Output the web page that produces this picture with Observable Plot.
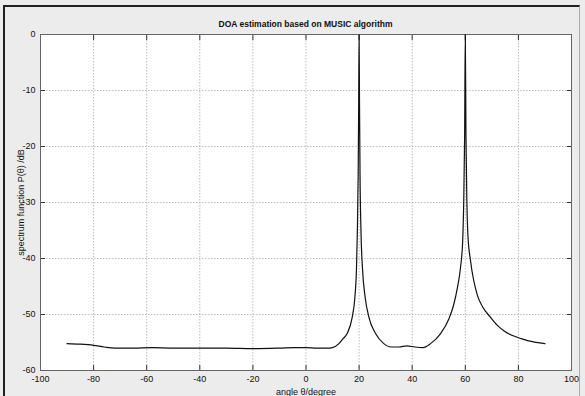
<!DOCTYPE html>
<html><head><meta charset="utf-8">
<script src="https://cdn.jsdelivr.net/npm/d3@7"></script>
<script src="https://cdn.jsdelivr.net/npm/@observablehq/plot@0.6"></script>
<style>
html,body{margin:0;padding:0;width:585px;height:396px;overflow:hidden;background:#ececec;}
#frame{position:absolute;left:3px;top:5px;width:577px;height:400px;border-left:2px solid #222;border-top:2px solid #222;border-right:1px solid #aaa;box-sizing:border-box;}
#title{position:absolute;top:19px;left:0;width:611px;text-align:center;font:bold 8.5px "Liberation Sans",Arial,sans-serif;color:#111;white-space:nowrap;}
#chart{position:absolute;left:0;top:0;}
</style></head>
<body>
<div id="frame"></div>
<div id="chart"></div>
<div id="title">DOA estimation based on MUSIC algorithm</div>
<script>
const angles = [-90,-85,-80,-76,-72,-65,-58,-50,-40,-30,-20,-10,-4,0,4,8,10,12.4,14,15.5,17.4,18.4,19.0,19.35,19.65,19.85,20.0,20.15,20.35,20.7,21.3,22.3,23.7,26.2,29.3,32,35,38,41,44,46.9,50.7,53.8,55.6,57.0,58.2,59.0,59.4,59.75,60.0,60.25,60.6,61.0,62.0,64.5,66.5,69.5,72,74.5,78,81,85.7,90];
const powerDb = [-55.2,-55.3,-55.5,-55.8,-56.0,-56.0,-55.9,-56.0,-56.0,-56.0,-56.1,-56.0,-55.9,-55.9,-56.0,-56.0,-55.9,-55.2,-54.3,-53.4,-50.5,-47.0,-42,-35,-25,-12,0,-12,-25,-35,-42,-47.0,-50.5,-53.4,-55.2,-55.8,-55.8,-55.6,-55.8,-55.9,-55.2,-53.4,-50.8,-48.3,-45.3,-41.6,-37,-30,-18,0,-18,-30,-36,-40.5,-46.5,-48.6,-50.5,-51.9,-52.9,-53.8,-54.3,-54.9,-55.2];
const xTicks = [-100,-80,-60,-40,-20,0,20,40,60,80,100];
const yTicks = [0,-10,-20,-30,-40,-50,-60];
const titleText = "DOA estimation based on MUSIC algorithm";
const xLabel = "angle θ/degree";
const yLabel = "spectrum function P(θ) /dB";

const data = angles.map((a, i) => ({angle: a, p: powerDb[i]}));
const tickColor = "#333";
const fmt = d => String(d);
const chart = Plot.plot({
  width: 585, height: 396,
  marginLeft: 40, marginRight: 14, marginTop: 34, marginBottom: 26,
  style: {background: "transparent", fontFamily: "'Liberation Sans', Arial, sans-serif", fontSize: "9px", color: "#111", overflow: "hidden"},
  x: {domain: [-100, 100], ticks: xTicks},
  y: {domain: [-60, 0], ticks: yTicks},
  marks: [
    Plot.frame({fill: "white", stroke: null}),
    Plot.gridX(xTicks, {stroke: "#bdbdbd", strokeOpacity: 1, strokeDasharray: "1.5,1.5"}),
    Plot.gridY(yTicks, {stroke: "#bdbdbd", strokeOpacity: 1, strokeDasharray: "1.5,1.5"}),
    Plot.axisX(xTicks, {anchor: "bottom", tickSize: 5, dy: -5, fill: "none", label: null, stroke: tickColor}),
    Plot.axisX(xTicks, {anchor: "top", tickSize: 5, dy: 5, fill: "none", label: null, stroke: tickColor}),
    Plot.axisY(yTicks, {anchor: "left", tickSize: 5, dx: 5, fill: "none", label: null, stroke: tickColor}),
    Plot.axisY(yTicks, {anchor: "right", tickSize: 5, dx: -5, fill: "none", label: null, stroke: tickColor}),
    Plot.axisX(xTicks, {anchor: "bottom", tickSize: 0, tickPadding: 5, tickFormat: fmt, label: xLabel, labelAnchor: "center", labelArrow: "none", labelOffset: 24, fontSize: 9}),
    Plot.axisY(yTicks, {anchor: "left", tickSize: 0, tickPadding: 5, tickFormat: fmt, label: yLabel, labelAnchor: "center", labelArrow: "none", labelOffset: 23, fontSize: 9}),
    Plot.frame({stroke: "#666"}),
    Plot.line(data, {x: "angle", y: "p", stroke: "#111", strokeWidth: 1.2, curve: "monotone-x"})
  ]
});
document.getElementById("chart").appendChild(chart);
document.getElementById("title").textContent = titleText;
</script>
</body></html>
